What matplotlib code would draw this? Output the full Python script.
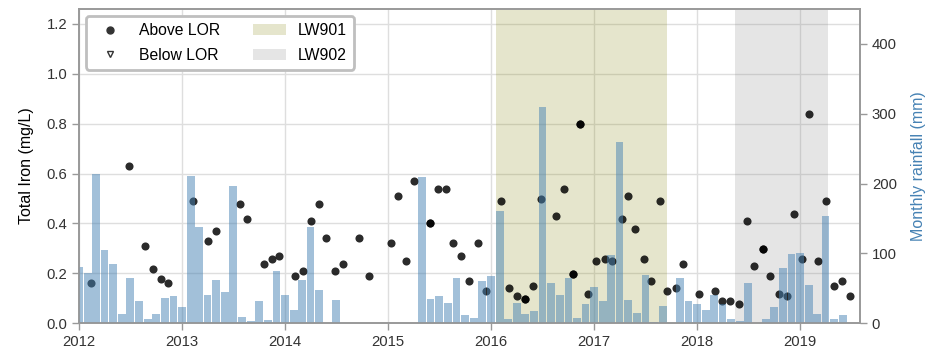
import datetime as dt
import numpy as np
import matplotlib
matplotlib.use("Agg")
import matplotlib.pyplot as plt
import matplotlib.dates as mdates
from matplotlib.lines import Line2D
from matplotlib.patches import Patch

plt.rcParams['font.family'] = ['Liberation Sans', 'DejaVu Sans']

nan = np.nan

# monthly rainfall (mm), Jan..Dec, nan where there is no record
rain_2012 = [81, 72, 213, 105, 84, 13, 64, 31, 6, 13, 36, 39]
rain_2013 = [23, 211, 138, 41, 62, 45, 197, 9, 3, 32, 5, 75]
rain_2014 = [41, 19, 62, 138, 48, 0, 33, nan, nan, nan, nan, nan]
rain_2015 = [nan, nan, nan, nan, 209, 35, 39, 29, 64, 12, 8, 61]
rain_2016 = [68, 161, 6, 29, 13, 18, 310, 58, 41, 64, 8, 28]
rain_2017 = [52, 31, 98, 260, 33, 15, 69, 2, 25, 0, 65, 32]
rain_2018 = [28, 19, 41, 28, 6, 3, 58, 0, 6, 23, 79, 99]
rain_2019 = [101, 54, 13, 154, 6, 11]

# total iron samples above LOR: sample time (decimal year) and value (mg/L)
fe_time = [2012.113, 2012.480, 2012.640, 2012.715, 2012.790, 2012.867,
           2013.104, 2013.252, 2013.330, 2013.560, 2013.634, 2013.790,
           2013.870, 2013.940, 2014.100, 2014.178, 2014.250, 2014.330,
           2014.400, 2014.485, 2014.560, 2014.715, 2014.810, 2015.026,
           2015.100, 2015.175, 2015.250, 2015.410, 2015.410, 2015.485,
           2015.560, 2015.630, 2015.710, 2015.790, 2015.870, 2015.950,
           2016.100, 2016.175, 2016.250, 2016.330, 2016.330, 2016.410,
           2016.485, 2016.634, 2016.710, 2016.790, 2016.790, 2016.860,
           2016.860, 2016.940, 2017.020, 2017.100, 2017.170, 2017.265,
           2017.330, 2017.400, 2017.480, 2017.550, 2017.634, 2017.710,
           2017.790, 2017.860, 2018.020, 2018.170, 2018.245, 2018.320,
           2018.405, 2018.480, 2018.550, 2018.640, 2018.640, 2018.710,
           2018.790, 2018.870, 2018.940, 2019.020, 2019.090, 2019.175,
           2019.250, 2019.330, 2019.410, 2019.480]
fe_value = [0.159, 0.630, 0.309, 0.219, 0.179, 0.159,
            0.490, 0.329, 0.369, 0.479, 0.419, 0.239,
            0.259, 0.269, 0.189, 0.209, 0.409, 0.479,
            0.340, 0.209, 0.239, 0.340, 0.189, 0.320,
            0.510, 0.249, 0.570, 0.400, 0.400, 0.539,
            0.539, 0.320, 0.269, 0.169, 0.320, 0.128,
            0.490, 0.139, 0.108, 0.098, 0.098, 0.148,
            0.499, 0.429, 0.539, 0.198, 0.198, 0.800,
            0.800, 0.118, 0.249, 0.259, 0.249, 0.419,
            0.510, 0.379, 0.258, 0.169, 0.490, 0.128,
            0.139, 0.238, 0.118, 0.128, 0.088, 0.088,
            0.078, 0.409, 0.229, 0.298, 0.298, 0.189,
            0.118, 0.108, 0.439, 0.258, 0.840, 0.249,
            0.490, 0.148, 0.169, 0.108]

# longwall mining periods
lw901 = (2016.05, 2017.705)
lw902 = (2018.37, 2019.27)


def to_date(y):
    year = int(y)
    start = dt.datetime(year, 1, 1)
    days = (dt.datetime(year + 1, 1, 1) - start).days
    return start + dt.timedelta(days=(y - year) * days)


rain = rain_2012 + rain_2013 + rain_2014 + rain_2015 + rain_2016 + rain_2017 + rain_2018 + rain_2019
months = [dt.datetime(2012 + i // 12, i % 12 + 1, 1) for i in range(len(rain))]
sample_dates = [to_date(t) for t in fe_time]

fig = plt.figure(figsize=(9.29, 3.52), dpi=100)
ax = fig.add_axes([0.085, 0.082, 0.8407, 0.8924])

grey = '0.6'
txt = '0.2'

ax.axvspan(to_date(lw901[0]), to_date(lw901[1]), color='olive', alpha=0.2, lw=0)
ax.axvspan(to_date(lw902[0]), to_date(lw902[1]), color='grey', alpha=0.2, lw=0)
ax.scatter(sample_dates, fe_value, s=34, color='k', alpha=0.83, lw=0, zorder=3)

ax.set_ylim(0, 1.26)
ax.set_yticks([0.0, 0.2, 0.4, 0.6, 0.8, 1.0, 1.2])
ax.set_xlim(dt.datetime(2012, 1, 1), dt.datetime(2019, 8, 1))
ax.xaxis.set_major_locator(mdates.YearLocator())
ax.xaxis.set_major_formatter(mdates.DateFormatter('%Y'))
ax.grid(True, color='0.87', lw=1)
ax.set_axisbelow(True)
ax.set_ylabel('Total Iron (mg/L)', fontsize=11.5, color='k', labelpad=9)

ax2 = ax.twinx()
ax2.bar(months, rain, width=27, color='steelblue', alpha=0.5, lw=0)
ax2.set_ylim(0, 450)
ax2.set_yticks([0, 100, 200, 300, 400])
ax2.set_ylabel('Monthly rainfall (mm)', fontsize=11.5, color='steelblue', labelpad=10)

for a in (ax, ax2):
    for s in a.spines.values():
        s.set_color(grey)
        s.set_linewidth(1.2)
    a.tick_params(colors=grey, labelcolor=txt, labelsize=10.7, length=5, width=1)

handles = [Line2D([], [], marker='o', ls='', color='0.2', markersize=5),
           Line2D([], [], marker='v', ls='', markerfacecolor='none', markeredgecolor='0.2', markersize=5),
           Patch(facecolor='olive', alpha=0.2, lw=0),
           Patch(facecolor='grey', alpha=0.2, lw=0)]
leg = ax2.legend(handles, ['Above LOR', 'Below LOR', 'LW901', 'LW902'], ncol=2,
                 loc='upper left', bbox_to_anchor=(0.0, 1.0), fontsize=11.3,
                 frameon=True, fancybox=True, handlelength=2.1, columnspacing=2.1,
                 borderpad=0.45, labelspacing=0.6, handletextpad=0.8,
                 borderaxespad=0.45)
leg.get_frame().set_edgecolor('0.75')
leg.get_frame().set_linewidth(2)
leg.get_frame().set_alpha(1)

fig.savefig('out.png', dpi=100)
